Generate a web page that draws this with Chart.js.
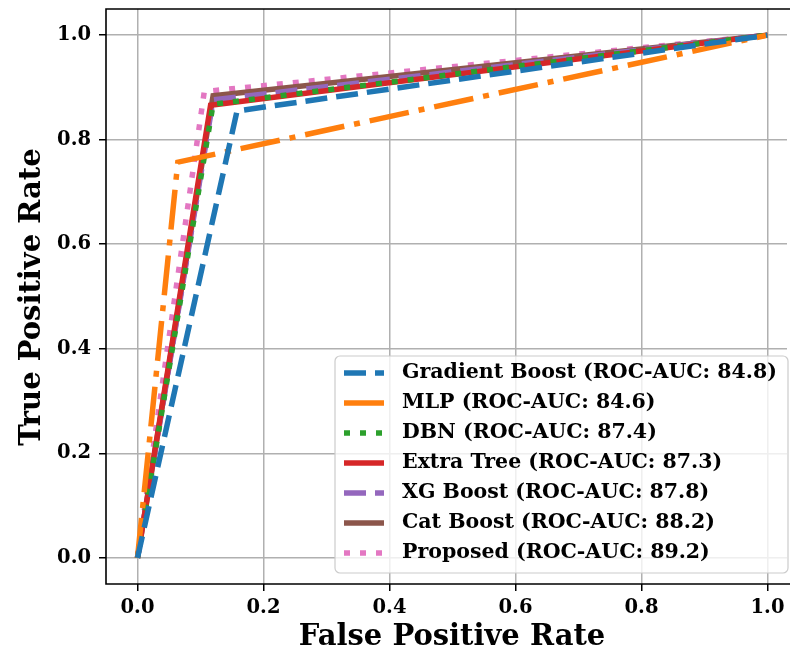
<html>
  <head>
    <script src="https://cdn.jsdelivr.net/npm/chart.js@4.4.1/dist/chart.umd.min.js"></script>
    <style>
      body { margin: 0; overflow: hidden; background: #fff; }
    </style>
  </head>
  <body>
    <canvas id="output" width="790" height="656" style="width:790px;height:656px"></canvas>

    <script>
      // ROC curves: each model is (0,0) -> (fpr, tpr) -> (1,1)
      var modelNames = ['Gradient Boost', 'MLP', 'DBN', 'Extra Tree', 'XG Boost', 'Cat Boost', 'Proposed'];
      var aucScores = [84.8, 84.6, 87.4, 87.3, 87.8, 88.2, 89.2];
      var gbFpr = [0, 0.158, 1], gbTpr = [0, 0.855, 1];
      var mlpFpr = [0, 0.064, 1], mlpTpr = [0, 0.757, 1];
      var dbnFpr = [0, 0.120, 1], dbnTpr = [0, 0.868, 1];
      var etFpr = [0, 0.116, 1], etTpr = [0, 0.866, 1];
      var xgbFpr = [0, 0.120, 1], xgbTpr = [0, 0.876, 1];
      var catFpr = [0, 0.120, 1], catTpr = [0, 0.884, 1];
      var propFpr = [0, 0.106, 1], propTpr = [0, 0.892, 1];
      var tickValues = [0, 0.2, 0.4, 0.6, 0.8, 1.0];

      var fprs = [gbFpr, mlpFpr, dbnFpr, etFpr, xgbFpr, catFpr, propFpr];
      var tprs = [gbTpr, mlpTpr, dbnTpr, etTpr, xgbTpr, catTpr, propTpr];
      var colors = ['#1f77b4', '#ff7f0e', '#2ca02c', '#d62728', '#9467bd', '#8c564b', '#e377c2'];
      var dashes = [[22, 9], [40, 10, 6, 10], [6, 10], [], [22, 9], [], [6, 10]];
      var FONT = "'DejaVu Serif', serif";

      var datasets = modelNames.map(function (name, i) {
        return {
          label: name + ' (ROC-AUC: ' + aucScores[i].toFixed(1) + ')',
          data: fprs[i].map(function (x, j) { return { x: x, y: tprs[i][j] }; }),
          borderColor: colors[i],
          backgroundColor: colors[i],
          borderWidth: 5.5,
          borderDash: dashes[i],
          borderCapStyle: 'butt',
          pointRadius: 0,
          fill: false,
          tension: 0
        };
      });

      // frame (right edge falls outside the picture), axis titles, in-plot legend
      var extras = {
        id: 'extras',
        afterDraw: function (chart) {
          var c = chart.ctx, a = chart.chartArea;
          c.save();
          // clear anything the scales left at the clipped right edge
          c.fillStyle = '#fff';
          c.fillRect(a.right - 3, 0, 10, a.bottom + 2);
          c.strokeStyle = '#000';
          c.lineWidth = 1.6;
          c.beginPath();
          c.moveTo(a.right + 2, a.top);
          c.lineTo(a.left, a.top);
          c.lineTo(a.left, a.bottom);
          c.lineTo(a.right + 2, a.bottom);
          c.stroke();

          c.fillStyle = '#000';
          c.font = 'bold 29px ' + FONT;
          c.textAlign = 'center';
          c.textBaseline = 'middle';
          c.fillText('False Positive Rate', 452, 637);
          c.translate(32, 297);
          c.rotate(-Math.PI / 2);
          c.fillText('True Positive Rate', 0, 0);
          c.restore();

          // legend
          c.save();
          var bx = 335, by = 356, bw = 453, bh = 217, r = 5;
          c.beginPath();
          c.moveTo(bx + r, by);
          c.arcTo(bx + bw, by, bx + bw, by + bh, r);
          c.arcTo(bx + bw, by + bh, bx, by + bh, r);
          c.arcTo(bx, by + bh, bx, by, r);
          c.arcTo(bx, by, bx + bw, by, r);
          c.closePath();
          c.fillStyle = 'rgba(255,255,255,0.8)';
          c.fill();
          c.strokeStyle = '#cccccc';
          c.lineWidth = 1.2;
          c.stroke();

          c.font = 'bold 20.5px ' + FONT;
          c.textAlign = 'left';
          c.textBaseline = 'middle';
          chart.data.datasets.forEach(function (ds, i) {
            var y = 373 + i * 30;
            c.beginPath();
            c.setLineDash(ds.borderDash);
            c.lineCap = 'butt';
            c.strokeStyle = ds.borderColor;
            c.lineWidth = ds.borderWidth;
            c.moveTo(344, y);
            c.lineTo(384, y);
            c.stroke();
            c.setLineDash([]);
            c.fillStyle = '#000';
            c.fillText(ds.label, 402, y);
          });
          c.restore();
        }
      };

      var ctx = document.getElementById('output').getContext('2d');
      var myChart = new Chart(ctx, {
        type: 'line',
        data: { datasets: datasets },
        options: {
          responsive: false,
          animation: false,
          layout: { padding: { top: 9, left: 0, right: 0, bottom: 0 } },
          plugins: { legend: { display: false }, tooltip: { enabled: false } },
          scales: {
            x: {
              type: 'linear',
              min: -0.05,
              max: 1.0357,
              afterBuildTicks: function (s) { s.ticks = tickValues.map(function (v) { return { value: v }; }); },
              afterFit: function (s) { s.height = 72; s.paddingLeft = 0; s.paddingRight = 0; },
              grid: { color: '#b0b0b0', lineWidth: 1.5, tickColor: '#000', tickLength: 7, tickWidth: 1.5 },
              border: { display: false },
              ticks: {
                color: '#000',
                padding: 5,
                maxRotation: 0,
                font: { family: FONT, size: 19.5, weight: 'bold' },
                callback: function (v) { return v.toFixed(1); }
              }
            },
            y: {
              type: 'linear',
              min: -0.05,
              max: 1.05,
              afterBuildTicks: function (s) { s.ticks = tickValues.map(function (v) { return { value: v }; }); },
              afterFit: function (s) { s.width = 106; s.paddingTop = 0; s.paddingBottom = 0; },
              grid: { color: '#b0b0b0', lineWidth: 1.5, tickColor: '#000', tickLength: 7, tickWidth: 1.5 },
              border: { display: false },
              ticks: {
                color: '#000',
                padding: 8,
                font: { family: FONT, size: 19.5, weight: 'bold' },
                callback: function (v) { return v.toFixed(1); }
              }
            }
          }
        },
        plugins: [extras]
      });
    </script>
  </body>
</html>
